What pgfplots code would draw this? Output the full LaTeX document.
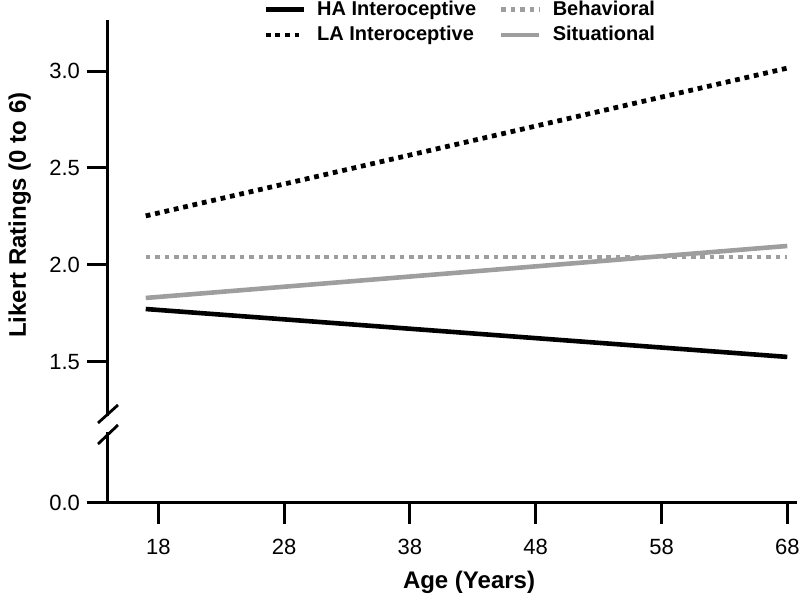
\documentclass[border=0pt]{standalone}
\usepackage{fontspec}
\setmainfont{Liberation Sans}
\usepackage{pgfplots}
\pgfplotsset{compat=1.18}
\definecolor{lgray}{RGB}{158,158,158}

\begin{document}
\begin{tikzpicture}
\useasboundingbox (-54pt,-47.5pt) rectangle (346pt,251.5pt);
\begin{axis}[
    scale only axis,
    width=344.5pt, height=241.5pt,
    xmin=14, xmax=68.77,
    ymin=0.773, ymax=3.263,
    axis x line*=bottom, axis y line*=left,
    axis line style={-, line width=1.5pt},
    every tick/.style={black, line width=1.5pt},
    major tick length=10.5pt,
    tick align=outside,
    xtick={18,28,38,48,58,68},
    ytick={0.773,1.5,2,2.5,3},
    yticklabels={0.0,1.5,2.0,2.5,3.0},
    /pgf/number format/assume math mode=true,
    ticklabel style={font=\fontsize{11}{13}\selectfont},
    xticklabel style={yshift=-4pt},
    xlabel={Age (Years)},
    ylabel={Likert Ratings (0 to 6)},
    label style={font=\bfseries\fontsize{12}{14}\selectfont},
    xlabel style={at={(axis description cs:0.524,-0.1636)}, anchor=center},
    ylabel style={at={(axis description cs:-0.128,0.596)}, anchor=center},
    clip=false,
    legend columns=2,
    legend cell align=left,
    legend style={draw=none, fill=none, inner sep=0pt,
        at={(axis description cs:0.225,1.049)}, anchor=north west,
        font=\bfseries\fontsize{10}{12}\selectfont,
        /tikz/every odd column/.append style={column sep=3.5pt},
        /tikz/every even column/.append style={column sep=9.5pt},
        row sep=0pt},
    legend image code/.code={\draw[#1] (0pt,0pt) -- (19pt,0pt);},
]
\addplot[black, line width=2.3pt] coordinates {(17,1.773) (68,1.526)};
\addlegendentry{HA Interoceptive}
\addplot[lgray, line width=2.3pt, dash pattern=on 2.3pt off 2.4pt] coordinates {(17,2.041) (68,2.041)};
\addlegendentry{Behavioral}
\addplot[black, line width=2.4pt, dash pattern=on 2.4pt off 2.4pt] coordinates {(17,2.253) (68,3.015)};
\addlegendentry{LA Interoceptive}
\addplot[lgray, line width=2.3pt] coordinates {(17,1.830) (68,2.098)};
\addlegendentry{Situational}
\end{axis}
% y-axis break
\fill[white] (-3pt,35.5pt) rectangle (3pt,43.5pt);
\draw[line width=1.4pt] (-5pt,40pt) -- (5pt,49pt);
\draw[line width=1.4pt] (-5pt,29.5pt) -- (5pt,39pt);
\end{tikzpicture}
\end{document}
